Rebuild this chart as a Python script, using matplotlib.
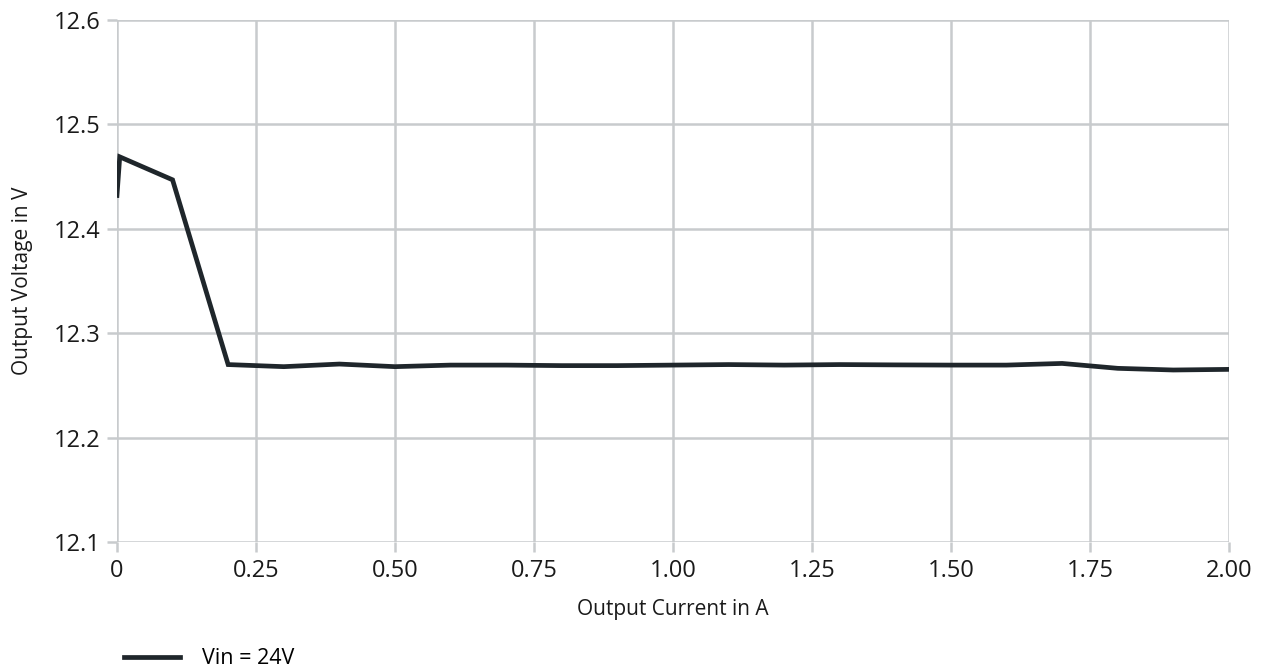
import matplotlib.pyplot as plt

# Courbe de regulation : tension de sortie selon le courant de sortie
courant = [0, 0.005, 0.1, 0.2, 0.3, 0.4, 0.5, 0.6, 0.7, 0.8, 0.9, 1.0,
           1.1, 1.2, 1.3, 1.4, 1.5, 1.6, 1.7, 1.8, 1.9, 2.0]
tension = [12.432, 12.469, 12.447, 12.270, 12.268, 12.2705, 12.268, 12.2695,
           12.2695, 12.269, 12.269, 12.2695, 12.270, 12.2695, 12.270, 12.2697,
           12.2695, 12.2695, 12.2711, 12.2664, 12.2648, 12.2654]
serie = 'Vin = 24V'
xticks = [0, 0.25, 0.5, 0.75, 1.0, 1.25, 1.5, 1.75, 2.0]
xlabels = ['0', '0.25', '0.50', '0.75', '1.00', '1.25', '1.50', '1.75', '2.00']
yticks = [12.1, 12.2, 12.3, 12.4, 12.5, 12.6]

plt.rcParams['font.family'] = ['Open Sans', 'DejaVu Sans']
grille = '#c8cbcd'
trait = '#1f262b'

fig = plt.figure(figsize=(12.63, 6.70), dpi=100)
ax = fig.add_axes([0.0926, 0.191, 0.8804, 0.779])

ax.plot(courant, tension, color=trait, lw=3.4, label=serie, solid_joinstyle='miter')

ax.set_xlim(0, 2.0)
ax.set_ylim(12.1, 12.6)
ax.set_xticks(xticks)
ax.set_xticklabels(xlabels)
ax.set_yticks(yticks)
ax.set_yticklabels([f'{v:.1f}' for v in yticks])
ax.grid(True, color=grille, lw=1.8)
ax.set_axisbelow(True)
for s in ax.spines.values():
    s.set_visible(False)
ax.tick_params(axis='both', colors=grille, length=7, width=1.8, labelsize=17,
               labelcolor='#1a1a1a', pad=5)

ax.set_xlabel('Output Current in A', fontsize=15, color='#1a1a1a', labelpad=12)
ax.set_ylabel('Output Voltage in V', fontsize=15, color='#1a1a1a', labelpad=15)

fig.legend(loc='lower left', bbox_to_anchor=(0.083, -0.028), frameon=False,
           fontsize=15.5, handlelength=2.6, handletextpad=1.0)

fig.savefig('out.png', dpi=100)
